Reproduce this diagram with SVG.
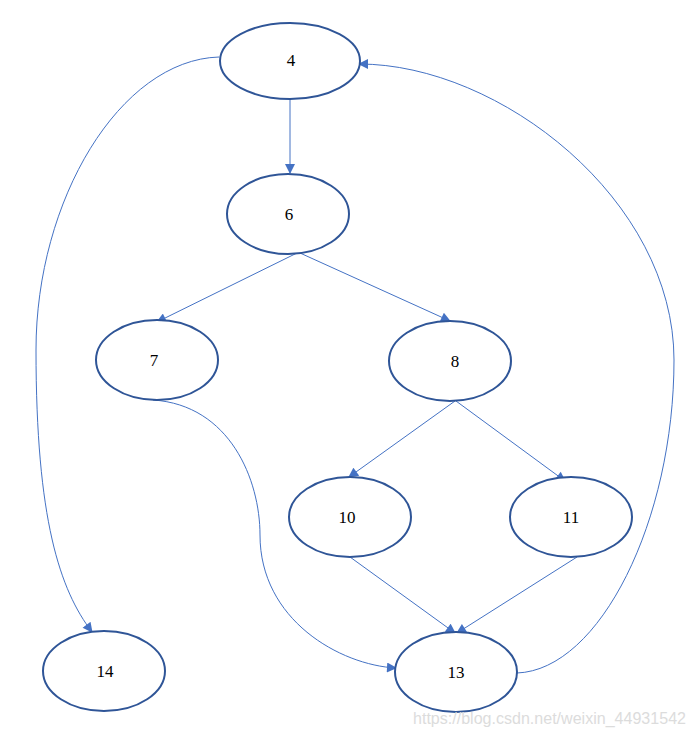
<svg xmlns="http://www.w3.org/2000/svg" width="694" height="737" viewBox="0 0 694 737">
<style>
.n ellipse{fill:#fff;stroke:#2F5597;stroke-width:2}
.n text{font-family:"Liberation Serif",serif;font-size:17px;fill:#000;text-anchor:middle}
.e path{fill:none;stroke:#4472C4;stroke-width:1;marker-end:url(#a)}
.wm{font-family:"Liberation Sans",sans-serif;font-size:16px;fill:#dcdcdc}
</style>
<defs>
<marker id="a" viewBox="0 0 10 10" refX="9" refY="5" markerWidth="11" markerHeight="10" markerUnits="userSpaceOnUse" orient="auto">
<path d="M0,0 L10,5 L0,10 z" fill="#4472C4"/>
</marker>
</defs>
<rect width="694" height="737" fill="#fff"/>
<g class="e" id="edges">
<path d="M290,99 L290,173"/>
<path d="M297,253 L157,322"/>
<path d="M300,253 L450,321"/>
<path d="M455,401 L349,477"/>
<path d="M456,401 L565,481"/>
<path d="M350,557 L455,633"/>
<path d="M577,557 L457,633"/>
<path d="M153,400 C230,405 260,480 260,535 C260,620 340,665 396,668"/>
<path d="M219,57 C120,60 36,200 36,350 C36,520 60,590 92,632"/>
<path d="M517,673 C600,670 674,520 674,360 C674,200 500,64 359,64"/>
</g>
<g class="n" id="n4"><ellipse cx="290" cy="61" rx="70" ry="38"/><text x="291" y="66">4</text></g>
<g class="n" id="n6"><ellipse cx="288" cy="214" rx="61" ry="40"/><text x="289" y="220">6</text></g>
<g class="n" id="n7"><ellipse cx="157" cy="360" rx="61" ry="40"/><text x="154" y="366">7</text></g>
<g class="n" id="n8"><ellipse cx="450" cy="361" rx="61" ry="40"/><text x="455" y="367">8</text></g>
<g class="n" id="n10"><ellipse cx="350" cy="517" rx="61" ry="40"/><text x="347" y="523">10</text></g>
<g class="n" id="n11"><ellipse cx="571" cy="517" rx="61" ry="40"/><text x="571" y="523">11</text></g>
<g class="n" id="n13"><ellipse cx="456" cy="672" rx="61" ry="40"/><text x="456" y="678">13</text></g>
<g class="n" id="n14"><ellipse cx="104" cy="671" rx="61" ry="40"/><text x="105" y="677">14</text></g>
<text class="wm" x="413" y="724" textLength="273" lengthAdjust="spacingAndGlyphs">https://blog.csdn.net/weixin_44931542</text>
</svg>
